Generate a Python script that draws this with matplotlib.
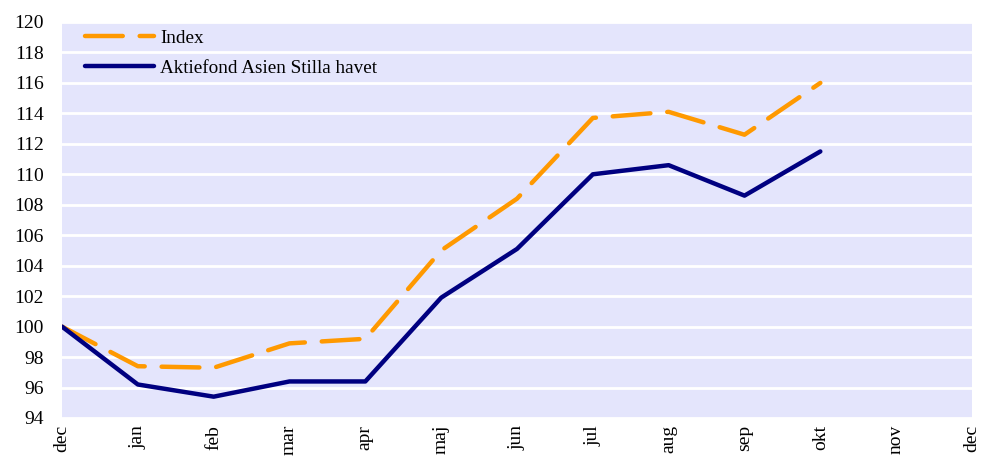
import matplotlib.pyplot as plt
from matplotlib.ticker import MultipleLocator
import numpy as np

months = ['dec', 'jan', 'feb', 'mar', 'apr', 'maj', 'jun', 'jul', 'aug', 'sep', 'okt', 'nov', 'dec']
index_vals = [100.0, 97.4, 97.3, 98.9, 99.2, 105.0, 108.4, 113.7, 114.1, 112.6, 116.0]
fund_vals = [100.0, 96.2, 95.4, 96.4, 96.4, 101.9, 105.1, 110.0, 110.6, 108.6, 111.5]

plt.rcParams['font.family'] = ['Liberation Serif', 'DejaVu Serif']

fig = plt.figure(figsize=(9.82, 4.68), dpi=100)
ax = fig.add_axes([62/982, 1-418/468, 910/982, 396/468])
ax.set_facecolor('#E4E5FC')

x = np.arange(len(index_vals))
ax.plot(x, index_vals, color='#FF9900', lw=3.2, dashes=(8.5, 3.8),
        dash_capstyle='round', solid_capstyle='round', label='Index')
ax.plot(x, fund_vals, color='#000080', lw=3.2, solid_capstyle='round',
        label='Aktiefond Asien Stilla havet')

ax.set_xlim(0, len(months)-1)
ax.set_ylim(94, 120)
ax.yaxis.set_major_locator(MultipleLocator(2))
ax.set_xticks(np.arange(len(months)))
ax.set_xticklabels(months, rotation=90, fontsize=14)
ax.tick_params(axis='y', labelsize=14, length=0, pad=13)
ax.tick_params(axis='x', length=0, pad=5)
ax.grid(axis='y', color='white', lw=2)
ax.set_axisbelow(True)
for s in ax.spines.values():
    s.set_visible(False)

leg = ax.legend(loc='upper left', frameon=False, fontsize=13.8, handlelength=3.6,
                handletextpad=0.3, labelspacing=0.65, borderaxespad=0.0,
                bbox_to_anchor=(0.017, 1.0))

fig.savefig('out.png', dpi=100)
